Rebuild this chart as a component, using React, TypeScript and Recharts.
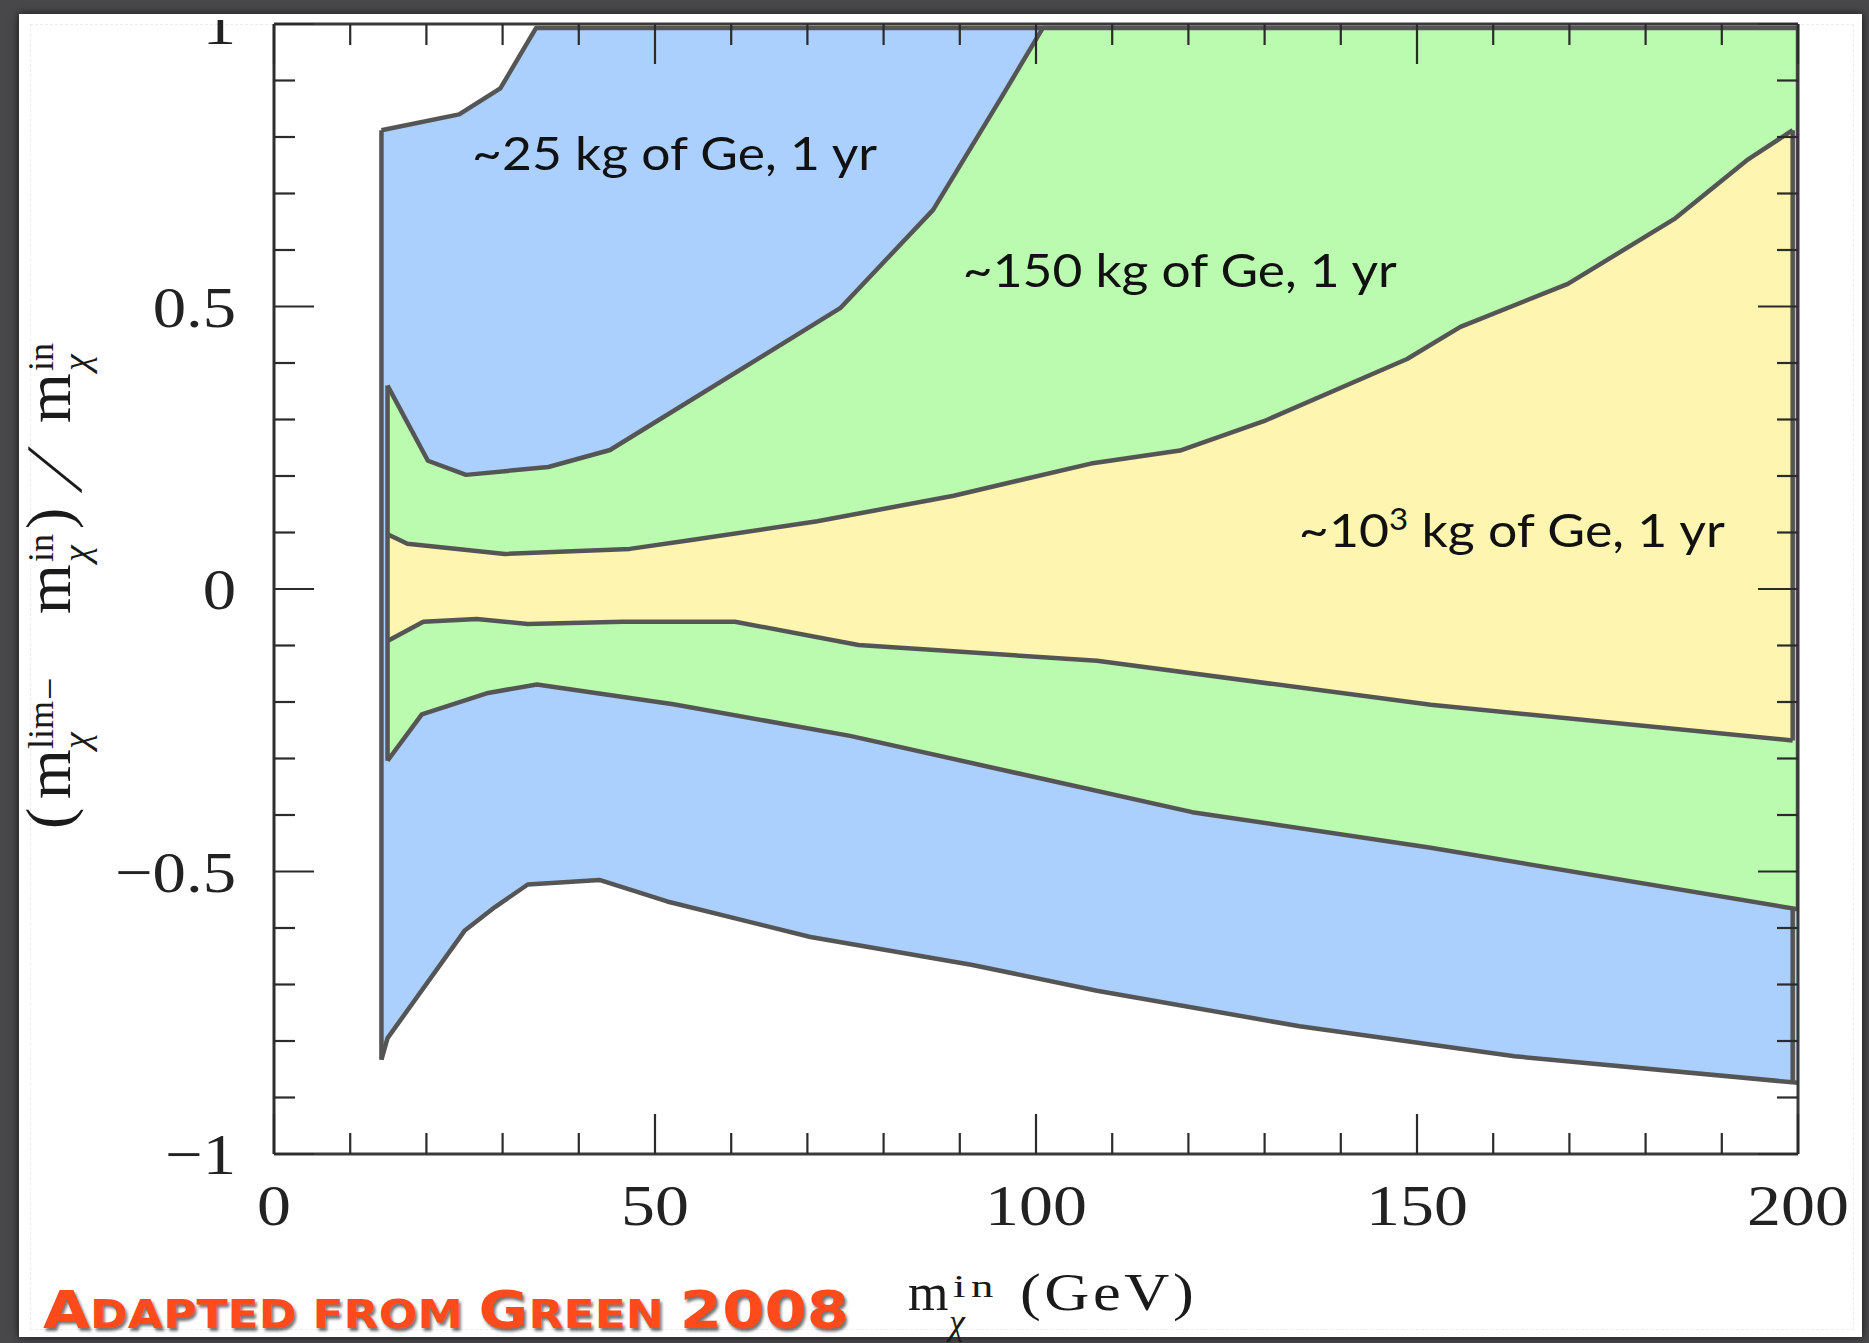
import React from "react";
import { ComposedChart, Area, Line, XAxis, YAxis, ReferenceDot } from "recharts";

const W = 1869;
const H = 1343;

// boundaries of the three bands, [m_in (GeV), (m_lim - m_in)/m_in]
const BLUE_UPPER: [number, number][] = [
  [14.1, 0.812], [24.3, 0.84], [29.7, 0.886], [34.4, 0.993], [200, 0.993],
];
const BLUE_LOWER: [number, number][] = [
  [14.1, -0.833], [14.9, -0.795], [25, -0.605], [29, -0.563], [33.3, -0.523], [42.7, -0.515],
  [51.6, -0.553], [70.4, -0.616], [91.5, -0.665], [108, -0.711], [134.6, -0.774],
  [162.8, -0.827], [200, -0.874],
];
const GREEN_UPPER: [number, number][] = [
  [14.9, 0.36], [20.2, 0.227], [25.2, 0.202], [36, 0.216], [44.1, 0.246], [74.3, 0.497],
  [86.5, 0.671], [95.5, 0.871], [100.9, 0.993], [200, 0.993],
];
const GREEN_LOWER: [number, number][] = [
  [14.9, -0.304], [19.4, -0.222], [28.1, -0.184], [34.5, -0.169], [52.4, -0.204],
  [75.6, -0.26], [120.5, -0.395], [151.8, -0.458], [200, -0.567],
];
const YELLOW_UPPER: [number, number][] = [
  [14.9, 0.097], [17.5, 0.08], [30.3, 0.062], [46.7, 0.071], [55, 0.087], [71.3, 0.12],
  [89.2, 0.165], [107.2, 0.222], [118.9, 0.245], [129.9, 0.297], [148.7, 0.407],
  [155.7, 0.464], [169.8, 0.54], [183.9, 0.656], [193.3, 0.759], [199.3, 0.812],
];
const YELLOW_LOWER: [number, number][] = [
  [14.9, -0.092], [19.6, -0.058], [26.6, -0.053], [33.3, -0.062], [45.8, -0.058],
  [60.5, -0.058], [76.7, -0.099], [108, -0.127], [151.8, -0.205], [199.3, -0.268],
];

// closing vertical edges of the bands
const EDGES: [number, number][][] = [
  [[14.1, -0.833], [14.1, 0.812]],
  [[14.9, -0.304], [14.9, 0.36]],
  [[200, -0.567], [200, 0.993]],
  [[199.3, -0.268], [199.3, 0.812]],
  [[199.3, -0.874], [199.3, -0.567]],
];

const X_TICKS = [0, 10, 20, 30, 40, 50, 60, 70, 80, 90, 100, 110, 120, 130, 140, 150, 160, 170, 180, 190, 200];
const X_LABELS = [0, 50, 100, 150, 200];
const Y_TICKS = [-1, -0.9, -0.8, -0.7, -0.6, -0.5, -0.4, -0.3, -0.2, -0.1, 0, 0.1, 0.2, 0.3, 0.4, 0.5, 0.6, 0.7, 0.8, 0.9, 1];
const Y_LABELS = [-1, -0.5, 0, 0.5, 1];

const BLUE = "#abd0fe";
const GREEN = "#bafbaf";
const YELLOW = "#fef6b0";
const OUTLINE = "#555555";
const TICK = "#2b2b2b";
const SERIF = "'Liberation Serif', 'Times New Roman', serif";
const NOTE_FONT = "Lato, 'Open Sans', sans-serif";
const CREDIT_FONT = "'DejaVu Sans', sans-serif";

const toRows = (pts: [number, number][]) => pts.map(([x, y]) => ({ x, y }));

const isMajorX = (v: number) => X_LABELS.includes(v);
const isMajorY = (v: number) => Y_LABELS.some((l) => Math.abs(l - v) < 1e-6);
const fmtY = (v: number) => (v < 0 ? "\u2212" + Math.abs(v) : String(v));

// eslint-disable-next-line @typescript-eslint/no-explicit-any
function BottomTick({ x, y, payload }: any) {
  const v = payload.value as number;
  const major = isMajorX(v);
  return (
    <g>
      <line x1={x} x2={x} y1={y} y2={y - (major ? 40 : 21)} stroke={TICK} strokeWidth={2.2} />
      {major && (
        <text transform={`translate(${x},${y + 71}) scale(1.17,1)`} textAnchor="middle"
          fontFamily={SERIF} fontSize={58} fill="#222">{v}</text>
      )}
    </g>
  );
}

// eslint-disable-next-line @typescript-eslint/no-explicit-any
function TopTick({ x, y, payload }: any) {
  const major = isMajorX(payload.value);
  return <line x1={x} x2={x} y1={y} y2={y + (major ? 40 : 21)} stroke={TICK} strokeWidth={2.2} />;
}

// eslint-disable-next-line @typescript-eslint/no-explicit-any
function LeftTick({ x, y, payload }: any) {
  const v = payload.value as number;
  const major = isMajorY(v);
  return (
    <g>
      <line x1={x} x2={x + (major ? 40 : 21)} y1={y} y2={y} stroke={TICK} strokeWidth={2.2} />
      {major && (
        <text transform={`translate(${x - 38},${y + 20}) scale(1.15,1)`} textAnchor="end"
          fontFamily={SERIF} fontSize={58} fill="#222">{fmtY(v)}</text>
      )}
    </g>
  );
}

// eslint-disable-next-line @typescript-eslint/no-explicit-any
function RightTick({ x, y, payload }: any) {
  const major = isMajorY(payload.value);
  return <line x1={x} x2={x - (major ? 40 : 21)} y1={y} y2={y} stroke={TICK} strokeWidth={2.2} />;
}

// eslint-disable-next-line @typescript-eslint/no-explicit-any
const note = (text: React.ReactNode, len: number) => (p: any) => (
  <text x={p.cx} y={p.cy} fontFamily={NOTE_FONT} fontSize={47} fill="#111"
    textLength={len} lengthAdjust="spacingAndGlyphs">{text}</text>
);

const band = (pts: [number, number][], fill: string, key: string) => (
  <Area key={key} data={toRows(pts)} dataKey="y" type="linear" baseValue={-1}
    xAxisId="b" yAxisId="l" fill={fill} fillOpacity={1} stroke={OUTLINE} strokeWidth={4.5}
    strokeLinejoin="round" dot={false} activeDot={false} isAnimationActive={false} />
);

function Credit({ dx = 0, dy = 0, fill }: { dx?: number; dy?: number; fill: string }) {
  return (
    <text x={43 + dx} y={1328 + dy} fontFamily={CREDIT_FONT} fontWeight={700} fill={fill}
      textLength={806} lengthAdjust="spacingAndGlyphs">
      <tspan fontSize={52}>A</tspan>
      <tspan fontSize={39}>DAPTED FROM </tspan>
      <tspan fontSize={52}>G</tspan>
      <tspan fontSize={39}>REEN </tspan>
      <tspan fontSize={52}>2008</tspan>
    </text>
  );
}

export default function App() {
  return (
    <div style={{ position: "relative", width: W, height: H, background: "#48484a", overflow: "hidden" }}>
      <style>{`body{margin:0;} .recharts-area-area{shape-rendering:crispEdges;}`}</style>
      <div style={{
        position: "absolute", left: 19, top: 14, width: 1843, height: 1323,
        background: "#ffffff", boxShadow: "0 0 8px rgba(0,0,0,0.7)",
      }} />
      <div style={{
        position: "absolute", left: 30, top: 24, width: 1822, height: 1304,
        border: "1px dashed #ececec",
      }} />
      <div style={{ position: "absolute", left: 19, top: 20, width: 1843, height: 1317, overflow: "hidden" }}>
        <div style={{ position: "absolute", left: -19, top: -20 }}>
          <ComposedChart width={W} height={H} margin={{ top: 23, right: 70, bottom: 89, left: 174 }}>
            {band(BLUE_UPPER, BLUE, "bu")}
            {band(GREEN_UPPER, GREEN, "gu")}
            {band(YELLOW_UPPER, YELLOW, "yu")}
            {band(YELLOW_LOWER, GREEN, "yl")}
            {band(GREEN_LOWER, BLUE, "gl")}
            {band(BLUE_LOWER, "#ffffff", "bl")}
            {EDGES.map((e, i) => (
              <Line key={"e" + i} data={toRows(e)} dataKey="y" type="linear" xAxisId="b" yAxisId="l"
                stroke={OUTLINE} strokeWidth={4.5} dot={false} activeDot={false} isAnimationActive={false} />
            ))}
            <ReferenceDot xAxisId="b" yAxisId="l" x={26} y={0.742} r={0}
              shape={note("~25 kg of Ge, 1 yr", 405)} />
            <ReferenceDot xAxisId="b" yAxisId="l" x={90.4} y={0.535} r={0}
              shape={note("~150 kg of Ge, 1 yr", 434)} />
            <ReferenceDot xAxisId="b" yAxisId="l" x={134.5} y={0.074} r={0}
              shape={note(<>~10<tspan dy={-17} fontSize={30}>3</tspan><tspan dy={17}> kg of Ge, 1 yr</tspan></>, 426)} />
            <XAxis xAxisId="b" dataKey="x" type="number" domain={[0, 200]} allowDataOverflow
              ticks={X_TICKS} interval={0} height={100} tickSize={0} tickMargin={0} tickLine={false}
              axisLine={{ stroke: "#3a3a3a", strokeWidth: 3 }} tick={BottomTick} />
            <XAxis xAxisId="t" orientation="top" dataKey="x" type="number" domain={[0, 200]} allowDataOverflow
              ticks={X_TICKS} interval={0} height={1} tickSize={0} tickMargin={0} tickLine={false}
              axisLine={{ stroke: "#3a3a3a", strokeWidth: 3 }} tick={TopTick} />
            <YAxis yAxisId="l" type="number" domain={[-1, 1]} allowDataOverflow
              ticks={Y_TICKS} interval={0} width={100} tickSize={0} tickMargin={0} tickLine={false}
              axisLine={{ stroke: "#2e2e2e", strokeWidth: 3 }} tick={LeftTick} />
            <YAxis yAxisId="r" orientation="right" type="number" domain={[-1, 1]} allowDataOverflow
              ticks={Y_TICKS} interval={0} width={1} tickSize={0} tickMargin={0} tickLine={false}
              axisLine={{ stroke: "#3a3a3a", strokeWidth: 3 }} tick={RightTick} />
          </ComposedChart>
        </div>
      </div>
      <svg width={W} height={H} style={{ position: "absolute", left: 0, top: 0, pointerEvents: "none" }}>
        <defs>
          <filter id="soft" x="-5%" y="-20%" width="110%" height="140%">
            <feGaussianBlur stdDeviation="1.6" />
          </filter>
        </defs>
        {/* y axis title, written along the axis */}
        <g transform="translate(70,845) rotate(-90)" fontFamily={SERIF} fill="#1a1a1a">
          <text>
            <tspan x={16} y={0} fontSize={64}>(</tspan>
            <tspan x={46} y={0} fontSize={64}>m</tspan>
            <tspan x={96} y={19} fontSize={38} fontStyle="italic">χ</tspan>
            <tspan x={96} y={-17} fontSize={36}>lim</tspan>
            <tspan x={145} y={-7} fontSize={40}>−</tspan>
            <tspan x={231} y={0} fontSize={64}>m</tspan>
            <tspan x={283} y={19} fontSize={38} fontStyle="italic">χ</tspan>
            <tspan x={283} y={-17} fontSize={36}>in</tspan>
            <tspan x={316} y={0} fontSize={64}>)</tspan>
            <tspan x={422} y={0} fontSize={64}>m</tspan>
            <tspan x={474} y={19} fontSize={38} fontStyle="italic">χ</tspan>
            <tspan x={474} y={-17} fontSize={36}>in</tspan>
          </text>
          <text transform="translate(352,11) skewX(-25)" fontSize={80}>/</text>
        </g>
        <text x={908} y={1310} fontFamily={SERIF} fontSize={52} fill="#1a1a1a">m</text>
        <text x={949} y={1334} fontFamily={SERIF} fontSize={36} fontStyle="italic" fill="#1a1a1a">χ</text>
        <text transform="translate(953,1297) scale(1.4,1)" fontFamily={SERIF} fontSize={32}
          letterSpacing={4} fill="#1a1a1a">in</text>
        <text transform="translate(1020,1310) scale(1.2,1)" fontFamily={SERIF} fontSize={52}
          letterSpacing={3} fill="#1a1a1a">(GeV)</text>
        <g filter="url(#soft)">
          <Credit dx={2} dy={3} fill="rgba(0,0,0,0.55)" />
        </g>
        <Credit fill="#ff4a1c" />
      </svg>
    </div>
  );
}
